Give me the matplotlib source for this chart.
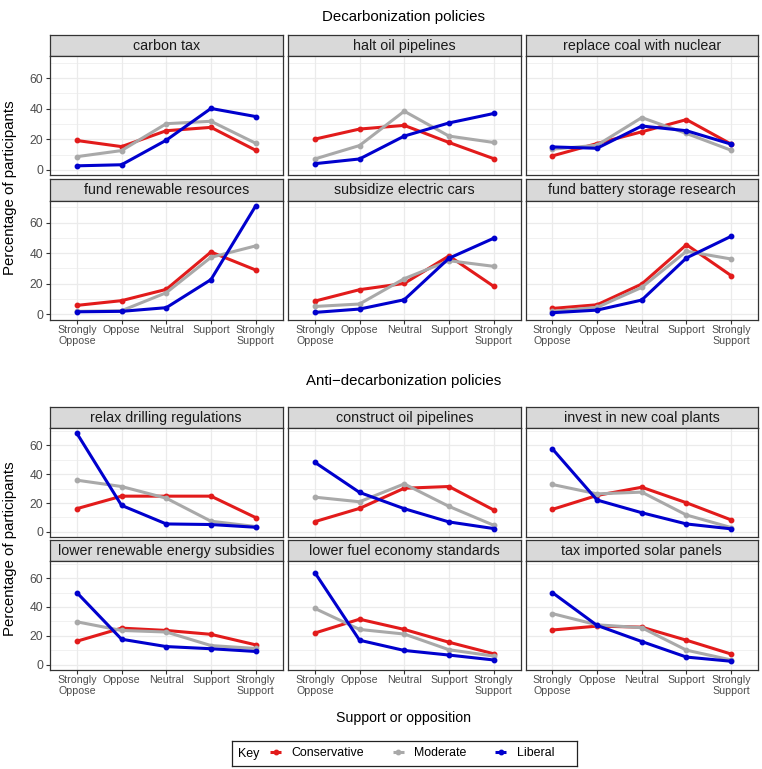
import matplotlib
matplotlib.use("Agg")
import matplotlib.pyplot as plt
from matplotlib.ticker import MultipleLocator
import numpy as np

plt.rcParams['font.family'] = ['Liberation Sans', 'DejaVu Sans']

# ---------------- data ----------------
categories = ["Strongly\nOppose", "Oppose", "Neutral", "Support", "Strongly\nSupport"]
groups = ["Conservative", "Moderate", "Liberal"]
group_colors = ["#E21B1B", "#A9A9A9", "#0000CD"]

decarb_policies = ["carbon tax", "halt oil pipelines", "replace coal with nuclear",
                   "fund renewable resources", "subsidize electric cars",
                   "fund battery storage research"]
anti_policies = ["relax drilling regulations", "construct oil pipelines",
                 "invest in new coal plants", "lower renewable energy subsidies",
                 "lower fuel economy standards", "tax imported solar panels"]

decarb_conservative = [
    [19.2, 15.2, 25.6, 27.8, 12.8],
    [20.1, 26.7, 29.1, 17.9, 7.3],
    [9.1, 17.2, 24.9, 32.9, 16.8],
    [5.7, 8.8, 16.2, 40.7, 28.9],
    [8.5, 16.0, 20.1, 38.1, 18.2],
    [3.7, 6.1, 19.7, 45.5, 25.2],
]
decarb_moderate = [
    [8.6, 12.6, 30.2, 31.8, 17.4],
    [7.1, 15.9, 38.4, 22.1, 17.9],
    [13.5, 16.1, 34.2, 23.8, 12.8],
    [1.8, 2.2, 14.0, 37.2, 44.7],
    [5.0, 6.6, 23.2, 35.0, 31.3],
    [1.8, 4.4, 17.5, 41.2, 36.1],
]
decarb_liberal = [
    [2.6, 3.3, 19.4, 40.2, 34.9],
    [4.0, 7.1, 22.1, 30.7, 36.9],
    [15.0, 14.1, 28.7, 25.6, 16.8],
    [1.5, 1.8, 4.2, 22.6, 70.9],
    [1.1, 3.3, 9.4, 36.6, 49.7],
    [0.9, 2.6, 9.2, 36.8, 51.0],
]

anti_conservative = [
    [16.1, 24.8, 24.8, 24.8, 9.9],
    [7.1, 16.3, 30.3, 31.5, 15.2],
    [15.6, 25.3, 31.0, 20.2, 8.3],
    [16.2, 25.3, 23.7, 21.0, 13.7],
    [21.9, 31.5, 24.4, 15.5, 7.5],
    [24.0, 26.7, 26.0, 16.9, 7.3],
]
anti_moderate = [
    [35.9, 31.5, 23.4, 7.4, 3.7],
    [24.1, 20.9, 33.3, 17.7, 4.6],
    [32.9, 26.4, 27.6, 11.7, 3.0],
    [29.7, 23.7, 22.6, 13.2, 11.2],
    [39.0, 24.4, 21.2, 10.3, 5.9],
    [35.4, 27.6, 25.6, 10.0, 3.2],
]
anti_liberal = [
    [68.5, 18.4, 5.5, 5.1, 3.2],
    [48.3, 27.4, 16.1, 6.9, 2.3],
    [57.7, 22.1, 13.3, 5.5, 2.1],
    [50.0, 17.6, 12.5, 11.0, 9.1],
    [63.9, 16.9, 9.8, 6.6, 3.2],
    [50.0, 27.2, 16.0, 5.2, 2.3],
]

# ---------------- layout ----------------
W, H = 762, 769
fig = plt.figure(figsize=(W / 100, H / 100), dpi=100)


def px_axes(left, top, width, height):
    return fig.add_axes([left / W, 1 - (top + height) / H, width / W, height / H])


col_lefts = [50, 288, 525.5]
col_w = 232.5
BORDER = "#333333"
GRID = "#EBEBEB"
TICKCOL = "#4D4D4D"


def draw_section(policies, series, strip_tops, strip_h, panel_h):
    ymax = max(max(max(r) for r in s) for s in series)
    ylo, yhi = -0.05 * ymax, 1.05 * ymax
    x = np.arange(len(categories))
    handles = []
    for i, pol in enumerate(policies):
        r, c = divmod(i, 3)
        st = strip_tops[r]
        sax = px_axes(col_lefts[c], st, col_w, strip_h)
        sax.set_facecolor("#D9D9D9")
        sax.set_xticks([]); sax.set_yticks([])
        for sp in sax.spines.values():
            sp.set_color(BORDER); sp.set_linewidth(0.9)
        sax.text(0.5, 0.47, pol, ha="center", va="center", fontsize=10.3,
                 color="#1A1A1A", transform=sax.transAxes)

        ax = px_axes(col_lefts[c], st + strip_h, col_w, panel_h)
        for g in range(len(groups)):
            ln, = ax.plot(x, series[g][i], color=group_colors[g], lw=2.2,
                          marker="o", ms=3.2, solid_capstyle="butt",
                          solid_joinstyle="round", label=groups[g], zorder=3)
            if i == 0:
                handles.append(ln)
        ax.set_xlim(-0.6, len(categories) - 0.4)
        ax.set_ylim(ylo, yhi)
        ax.yaxis.set_major_locator(MultipleLocator(20))
        ax.yaxis.set_minor_locator(MultipleLocator(10))
        ax.set_xticks(x)
        ax.set_xticklabels(categories, fontsize=7.7, color=TICKCOL, linespacing=1.05)
        ax.grid(True, which="major", color=GRID, lw=0.9, zorder=0)
        ax.grid(True, which="minor", axis="y", color=GRID, lw=0.5, zorder=0)
        ax.set_axisbelow(True)
        for sp in ax.spines.values():
            sp.set_color(BORDER); sp.set_linewidth(0.9)
        ax.tick_params(which="major", length=2.75, width=0.8, color=BORDER,
                       labelsize=8.7, labelcolor=TICKCOL, pad=2)
        ax.tick_params(axis="x", labelsize=7.7, pad=1.5)
        ax.tick_params(which="minor", length=0)
        if r == 0:
            ax.tick_params(axis="x", bottom=False, labelbottom=False)
        if c != 0:
            ax.tick_params(axis="y", left=False, labelleft=False)
    return handles


# Decarbonization section
handles = draw_section(decarb_policies,
                       [decarb_conservative, decarb_moderate, decarb_liberal],
                       strip_tops=[34.7, 179.0], strip_h=21.5, panel_h=119)
# Anti-decarbonization section
draw_section(anti_policies,
             [anti_conservative, anti_moderate, anti_liberal],
             strip_tops=[407.3, 540.0], strip_h=21.0, panel_h=108.5)

# titles
cx = (col_lefts[0] + col_lefts[2] + col_w) / 2 / W
fig.text(cx, 1 - 17 / H, "Decarbonization policies", ha="center", va="center", fontsize=10.8)
fig.text(cx, 1 - 381 / H, "Anti\u2212decarbonization policies", ha="center", va="center", fontsize=10.8)
fig.text(cx, 1 - 718 / H, "Support or opposition", ha="center", va="center", fontsize=10.2)
fig.text(10 / W, 1 - 187.5 / H, "Percentage of participants", rotation=90,
         ha="center", va="center", fontsize=10.8)
fig.text(10 / W, 1 - 549 / H, "Percentage of participants", rotation=90,
         ha="center", va="center", fontsize=10.8)

# legend box
lax = px_axes(232, 741, 345, 25)
lax.set_xticks([]); lax.set_yticks([])
lax.patch.set_alpha(0)
for sp in lax.spines.values():
    sp.set_color("#222222"); sp.set_linewidth(0.9)
lax.text(6 / 345, 0.5, "Key", ha="left", va="center", fontsize=9, transform=lax.transAxes)
lax.legend(handles=handles, loc="center left", bbox_to_anchor=(38 / 345, 0.5),
           ncol=3, frameon=False, fontsize=8.9, handlelength=0.9,
           handletextpad=0.85, columnspacing=2.3, numpoints=1,
           borderaxespad=0, borderpad=0)

fig.savefig("out.png", dpi=100)
